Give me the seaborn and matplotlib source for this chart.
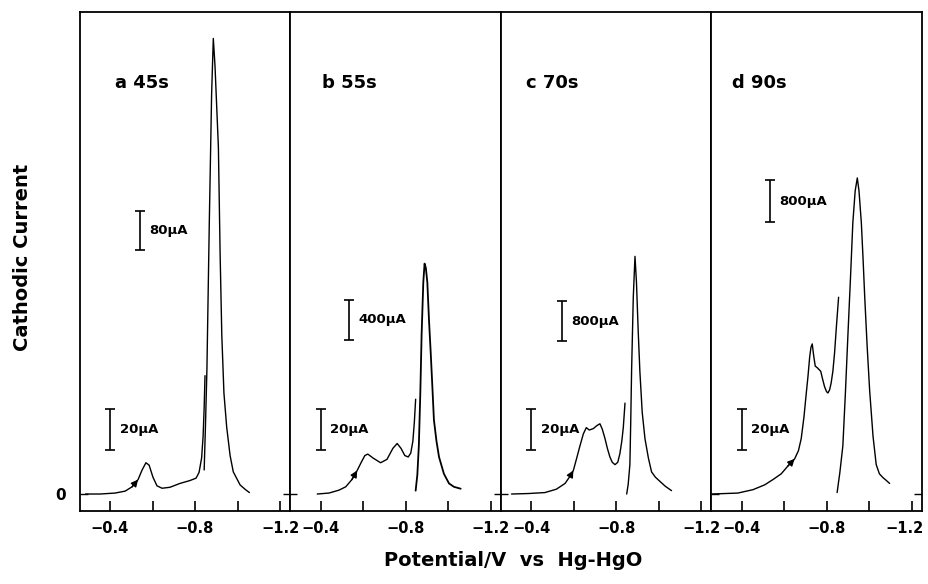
import numpy as np
import pandas as pd
import matplotlib.pyplot as plt
import matplotlib.transforms as mtrans
import seaborn as sns

# sweep labels and current scale bars
panel_labels = ['a 45s', 'b 55s', 'c 70s', 'd 90s']
low_scale = ['20µA', '20µA', '20µA', '20µA']
high_scale = ['80µA', '400µA', '800µA', '800µA']

# potential (V vs Hg-HgO) and current (arb. units), sensitive trace
a_low_v = [-0.285, -0.297, -0.353, -0.424, -0.471, -0.504, -0.532, -0.551, -0.569, -0.584, -0.602,
           -0.621, -0.645, -0.682, -0.729, -0.776, -0.805, -0.819, -0.831, -0.838, -0.843, -0.847]
a_low_i = [0.0, 0.0, 0.0, 0.02, 0.06, 0.15, 0.3, 0.5, 0.65, 0.6, 0.35,
           0.17, 0.12, 0.14, 0.22, 0.28, 0.33, 0.45, 0.75, 1.2, 1.8, 2.46]
b_low_v = [-0.384, -0.439, -0.486, -0.518, -0.547, -0.572, -0.59, -0.608, -0.622, -0.646, -0.682,
           -0.712, -0.74, -0.76, -0.778, -0.796, -0.812, -0.824, -0.834, -0.841, -0.847]
b_low_i = [0.0, 0.02, 0.08, 0.15, 0.3, 0.49, 0.65, 0.8, 0.83, 0.75, 0.65,
           0.72, 0.95, 1.05, 0.95, 0.8, 0.77, 0.85, 1.1, 1.5, 1.97]
c_low_v = [-0.307, -0.386, -0.464, -0.518, -0.559, -0.584, -0.598, -0.614, -0.629, -0.645, -0.659,
           -0.673, -0.692, -0.708, -0.723, -0.734, -0.747, -0.758, -0.77, -0.781, -0.794, -0.807,
           -0.817, -0.826, -0.833, -0.841]
c_low_i = [0.0, 0.01, 0.03, 0.1, 0.22, 0.38, 0.49, 0.75, 1.0, 1.25, 1.38,
           1.33, 1.36, 1.42, 1.46, 1.35, 1.15, 0.95, 0.77, 0.66, 0.61, 0.66,
           0.84, 1.1, 1.38, 1.89]
d_low_v = [-0.259, -0.381, -0.452, -0.507, -0.546, -0.585, -0.616, -0.648, -0.666, -0.679, -0.692,
           -0.703, -0.711, -0.719, -0.725, -0.731, -0.737, -0.745, -0.756, -0.771, -0.779, -0.789,
           -0.798, -0.805, -0.813, -0.82, -0.828, -0.836, -0.845, -0.855]
d_low_i = [0.0, 0.02, 0.09, 0.19, 0.3, 0.42, 0.58, 0.73, 0.9, 1.15, 1.6,
           2.1, 2.45, 2.85, 3.05, 3.12, 2.9, 2.66, 2.62, 2.55, 2.4, 2.23,
           2.13, 2.1, 2.17, 2.31, 2.55, 2.93, 3.5, 4.09]

# less sensitive trace, after switching range
a_high_v = [-0.843, -0.849, -0.856, -0.867, -0.878, -0.886, -0.894, -0.91, -0.918, -0.926, -0.936,
            -0.949, -0.965, -0.98, -1.012, -1.035, -1.056]
a_high_i = [0.5, 1.4, 2.6, 5.6, 8.3, 9.47, 8.9, 7.2, 5.0, 3.3, 2.1,
            1.39, 0.8, 0.46, 0.19, 0.1, 0.03]
b_high_v = [-0.847, -0.855, -0.862, -0.869, -0.875, -0.883, -0.889, -0.895, -0.902, -0.91, -0.918,
            -0.926, -0.933, -0.945, -0.957, -0.98, -1.004, -1.027, -1.059]
b_high_i = [0.07, 0.4, 1.0, 2.1, 3.3, 4.4, 4.79, 4.7, 4.4, 3.6, 2.93,
            2.2, 1.54, 1.1, 0.77, 0.42, 0.22, 0.15, 0.11]
c_high_v = [-0.849, -0.856, -0.864, -0.868, -0.872, -0.88, -0.888, -0.895, -0.903, -0.911, -0.922,
            -0.935, -0.951, -0.966, -0.984, -1.006, -1.031, -1.06]
c_high_i = [0.0, 0.2, 0.61, 1.5, 2.55, 4.09, 4.94, 4.4, 3.4, 2.55, 1.7,
            1.15, 0.75, 0.46, 0.35, 0.26, 0.16, 0.07]
d_high_v = [-0.848, -0.861, -0.875, -0.887, -0.899, -0.911, -0.922, -0.933, -0.943, -0.951, -0.962,
            -0.97, -0.978, -0.989, -1.001, -1.017, -1.032, -1.047, -1.064, -1.08, -1.095]
d_high_i = [0.03, 0.45, 1.0, 2.1, 3.32, 4.5, 5.64, 6.3, 6.57, 6.3, 5.64,
            4.9, 4.09, 3.1, 2.16, 1.2, 0.61, 0.42, 0.34, 0.28, 0.22]

low_traces = [(a_low_v, a_low_i), (b_low_v, b_low_i), (c_low_v, c_low_i), (d_low_v, d_low_i)]
high_traces = [(a_high_v, a_high_i), (b_high_v, b_high_i), (c_high_v, c_high_i), (d_high_v, d_high_i)]
arrow_at = [-0.532, -0.572, -0.598, -0.648]

sns.set_style('ticks')
plt.rcParams['font.family'] = ['DejaVu Sans']
plt.rcParams['font.weight'] = 'bold'
for key in ['text.color', 'axes.labelcolor', 'axes.edgecolor', 'xtick.color', 'ytick.color']:
    plt.rcParams[key] = 'black'

fig, axes = plt.subplots(1, 4, sharey=True, figsize=(9.29, 5.84), dpi=100)
fig.subplots_adjust(left=0.0856, right=0.9925, top=0.9795, bottom=0.125, wspace=0)

# scale bar placement (x in V, bottom/top in current units)
high_bar = [(-0.541, 5.08, 5.89), (-0.533, 3.2, 4.04), (-0.543, 3.18, 4.01), (-0.53, 5.65, 6.53)]
low_bar = (-0.4, 0.92, 1.77)

for k, ax in enumerate(axes):
    lv, li = low_traces[k]
    hv, hi = high_traces[k]
    df_low = pd.DataFrame({'v': lv, 'i': li})
    df_high = pd.DataFrame({'v': hv, 'i': hi})
    sns.lineplot(data=df_low, x='v', y='i', ax=ax, color='k', lw=1.0, sort=False, estimator=None)
    sns.lineplot(data=df_high, x='v', y='i', ax=ax, color='k', lw=1.0 if k != 1 else 1.3,
                 sort=False, estimator=None)

    # sweep direction arrow on the sensitive trace
    j = int(np.argmin(np.abs(np.array(lv) - arrow_at[k])))
    ax.annotate('', xy=(lv[j], li[j]), xytext=(lv[j - 1], li[j - 1]),
                arrowprops=dict(arrowstyle='-|>', color='k', lw=1.0, mutation_scale=10,
                                shrinkA=0, shrinkB=0))

    # current scale bars
    x, y0, y1 = low_bar
    ax.errorbar(x, (y0 + y1) / 2, yerr=(y1 - y0) / 2, color='k', lw=1.2, capsize=3.5, capthick=1.2)
    ax.text(x - 0.045, (y0 + y1) / 2, low_scale[k], fontsize=9.5, fontweight='bold', va='center')
    x, y0, y1 = high_bar[k]
    ax.errorbar(x, (y0 + y1) / 2, yerr=(y1 - y0) / 2, color='k', lw=1.2, capsize=3.5, capthick=1.2)
    ax.text(x - 0.045, (y0 + y1) / 2, high_scale[k], fontsize=9.5, fontweight='bold', va='center')

    ax.text([0.169, 0.151, 0.119, 0.096][k], 0.858, panel_labels[k], transform=ax.transAxes,
            fontsize=13, fontweight='bold', va='center', ha='left')

    ax.set_xlim(-0.2565, -1.2476)
    ax.set_ylim(-0.353, 10.02)
    ax.set_xticks([-0.4, -0.6, -0.8, -1.0, -1.2])
    ax.set_xticklabels(['\u22120.4', '', '\u22120.8', '', '\u22121.2'], fontsize=10.5, fontweight='bold')
    ax.tick_params(axis='x', direction='in', length=7, width=1.2, pad=7)
    ax.set_yticks([0])
    ax.tick_params(axis='y', direction='inout' if k else 'in', length=10 if k else 6, width=1.0, pad=10)
    if k == 3:
        ax.tick_params(axis='y', right=True, direction='in', length=6)
    ax.set_xlabel('')
    ax.set_ylabel('')
    for s in ax.spines.values():
        s.set_visible(True)
        s.set_linewidth(1.3)
        s.set_color('black')

# last label sits against the figure edge
last = axes[3].get_xticklabels()[-1]
last.set_transform(last.get_transform() + mtrans.ScaledTranslation(-5 / 72, 0, fig.dpi_scale_trans))

axes[0].set_yticklabels(['0'], fontsize=11, fontweight='bold')

fig.text(0.024, 0.56, 'Cathodic Current', rotation=90, ha='center', va='center',
         fontsize=14, fontweight='bold')
fig.text(0.552, 0.041, 'Potential/V  vs  Hg-HgO', ha='center', va='center',
         fontsize=14, fontweight='bold')

fig.savefig('out.png', dpi=100)
